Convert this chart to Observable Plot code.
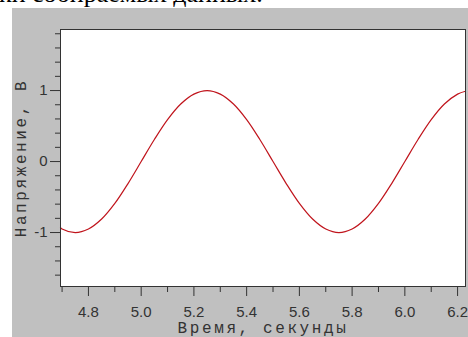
<!DOCTYPE html>
<html><head><meta charset="utf-8">
<script src="https://cdn.jsdelivr.net/npm/d3@7"></script>
<script src="https://cdn.jsdelivr.net/npm/@observablehq/plot@0.6"></script>
<style>
html,body{margin:0;padding:0;background:#fff;overflow:hidden;}
#wrap{position:relative;width:468px;height:337px;overflow:hidden;}
#caption{position:absolute;left:-1px;top:-19px;font-family:"Liberation Serif",serif;font-size:26px;line-height:26px;white-space:nowrap;color:#000;}
#panel{position:absolute;left:12px;top:8px;width:456px;height:329px;background:#c0c0c0;}
</style></head>
<body><div id="wrap"><div id="caption"></div><div id="panel"></div></div>
<script>
// Data
const time    = [4.694, 4.70, 4.75, 4.80, 4.85, 4.90, 4.95, 5.00, 5.05, 5.10, 5.15, 5.20, 5.25, 5.30, 5.35, 5.40, 5.45, 5.50, 5.55, 5.60, 5.65, 5.70, 5.75, 5.80, 5.85, 5.90, 5.95, 6.00, 6.05, 6.10, 6.15, 6.20, 6.23];
const voltage = [-0.93, -0.95, -1.00, -0.95, -0.81, -0.59, -0.31, 0.00, 0.31, 0.59, 0.81, 0.95, 1.00, 0.95, 0.81, 0.59, 0.31, 0.00, -0.31, -0.59, -0.81, -0.95, -1.00, -0.95, -0.81, -0.59, -0.31, 0.00, 0.31, 0.59, 0.81, 0.95, 0.99];
const xMajorTicks = [4.8, 5.0, 5.2, 5.4, 5.6, 5.8, 6.0, 6.2];
const xMinorTicks = [4.7, 4.9, 5.1, 5.3, 5.5, 5.7, 5.9, 6.1];
const yMajorTicks = [-1, 0, 1];
const yMinorTicks = [-1.6, -1.4, -1.2, -0.8, -0.6, -0.4, -0.2, 0.2, 0.4, 0.6, 0.8, 1.2, 1.4, 1.6, 1.8];
const xTitle = "Время, секунды";
const yTitle = "Напряжение, В";
const captionText = "ки собираемых данных.";

document.getElementById("caption").textContent = captionText;

const data = time.map((t, i) => ({t, v: voltage[i]}));
const axisColor = "#333";
const chart = Plot.plot({
  width: 456, height: 329,
  marginLeft: 48, marginRight: 3, marginTop: 21, marginBottom: 51,
  style: {background: "transparent", fontFamily: "'Liberation Sans', Arial, sans-serif", fontSize: "15px", color: axisColor},
  x: {domain: [4.694, 6.23]},
  y: {domain: [-1.76, 1.86]},
  marks: [
    Plot.frame({fill: "white", stroke: "none"}),
    Plot.line(data, {x: "t", y: "v", stroke: "#c0141c", strokeWidth: 1.2, curve: "catmull-rom"}),
    Plot.axisX({ticks: xMinorTicks, tickSize: 6, text: null, label: null, stroke: axisColor}),
    Plot.axisX({ticks: xMajorTicks, tickSize: 10, tickPadding: 10, tickFormat: d3.format(".1f"), label: null, stroke: axisColor, fill: axisColor}),
    Plot.axisY({ticks: yMinorTicks, tickSize: 5, text: null, label: null, stroke: axisColor}),
    Plot.axisY({ticks: yMajorTicks, tickSize: 10, tickPadding: 3, tickFormat: d => String(d), label: null, stroke: axisColor, fill: axisColor}),
    Plot.frame({stroke: axisColor}),
    Plot.text([yTitle], {frameAnchor: "left", dx: -40, rotate: -90, textAnchor: "middle", fontFamily: "'Liberation Mono', monospace", fontSize: 16, fill: axisColor}),
    Plot.text([xTitle], {frameAnchor: "bottom", dy: 46, textAnchor: "middle", fontFamily: "'Liberation Mono', monospace", fontSize: 16, fill: axisColor})
  ]
});
d3.select(chart).selectAll("text").filter(function() {
  return this.textContent === xTitle || this.textContent === yTitle;
}).attr("letter-spacing", "2.6px");
document.getElementById("panel").appendChild(chart);
</script>
</body></html>
